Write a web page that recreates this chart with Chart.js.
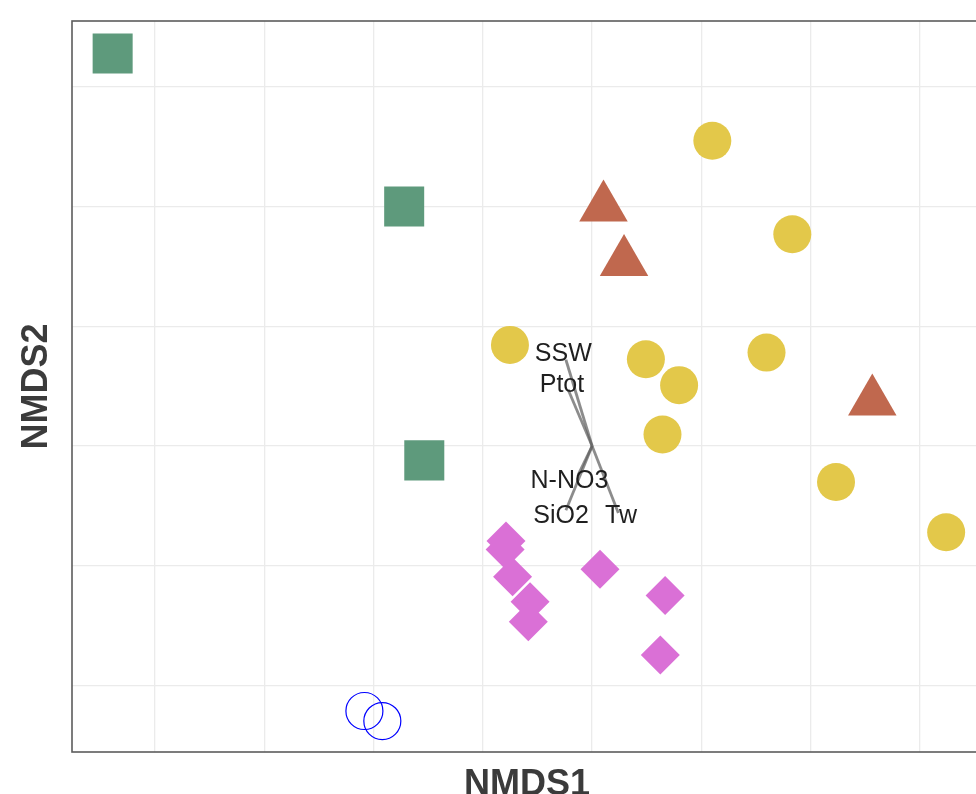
<!DOCTYPE html>
<html>
<head>
<meta charset="utf-8">
<title>NMDS ordination</title>
<script src="https://cdn.jsdelivr.net/npm/chart.js@4.4.1/dist/chart.umd.min.js"></script>
<style>
  html, body { margin: 0; padding: 0; background: #fff; }
  #wrap { width: 976px; height: 794px; overflow: hidden; position: relative; }
  #nmds { display: block; }
</style>
</head>
<body>
<div id="wrap">
  <canvas id="nmds" width="1000" height="820"></canvas>
</div>
<script>
// Grid positions on both axes (no tick labels are shown)
const xGrid = [-1, -0.75, -0.5, -0.25, 0, 0.25, 0.5, 0.75];
const yGrid = [-0.5, -0.25, 0, 0.25, 0.5, 0.75];

// Site scores by group
const squareX = [-1.097, -0.430, -0.384];
const squareY = [0.819, 0.500, -0.030];

const triangleX = [0.026, 0.073, 0.641];
const triangleY = [0.498, 0.384, 0.093];

const circleX = [-0.188, 0.123, 0.199, 0.161, 0.275, 0.458, 0.399, 0.558, 0.810];
const circleY = [0.211, 0.181, 0.127, 0.024, 0.637, 0.442, 0.195, -0.075, -0.180];

const diamondX = [-0.197, -0.199, -0.182, -0.142, -0.146, 0.018, 0.167, 0.156];
const diamondY = [-0.198, -0.216, -0.273, -0.325, -0.367, -0.257, -0.312, -0.436];

const openX = [-0.521, -0.480];
const openY = [-0.553, -0.574];

// Environmental fit vectors (arrow tips) and their label positions
const envNames = ["SSW", "Ptot", "N-NO3", "SiO2", "Tw"];
const envX = [-0.060, -0.055, -0.032, -0.060, 0.060];
const envY = [0.180, 0.118, -0.060, -0.134, -0.140];
const envLabelX = [-0.066, -0.069, -0.052, -0.071, 0.066];
const envLabelY = [0.192, 0.127, -0.073, -0.146, -0.146];

const toPoints = (xs, ys) => xs.map((x, i) => ({ x: x, y: ys[i] }));

const vectorSets = envNames.map((name, i) => ({
  label: name,
  data: [{ x: 0, y: 0 }, { x: envX[i], y: envY[i] }],
  showLine: true,
  borderColor: "rgba(95,95,95,0.72)",
  borderWidth: 2.8,
  pointRadius: 0,
  order: 5
}));

// Draws the env. variable names next to the vectors
const envLabels = {
  id: "envLabels",
  afterDatasetsDraw(chart) {
    const ctx = chart.ctx;
    const xs = chart.scales.x, ys = chart.scales.y;
    ctx.save();
    ctx.font = "25px 'Liberation Sans', Arial, sans-serif";
    ctx.fillStyle = "#1f1f1f";
    ctx.textAlign = "center";
    ctx.textBaseline = "middle";
    envNames.forEach((name, i) => {
      ctx.fillText(name, xs.getPixelForValue(envLabelX[i]), ys.getPixelForValue(envLabelY[i]));
    });
    ctx.restore();
  }
};

// Panel border on all four sides
const panelBorder = {
  id: "panelBorder",
  afterDraw(chart) {
    const a = chart.chartArea;
    const ctx = chart.ctx;
    ctx.save();
    ctx.strokeStyle = "#5c5c5c";
    ctx.lineWidth = 1.6;
    ctx.strokeRect(a.left, a.top, a.right - a.left, a.bottom - a.top);
    ctx.restore();
  }
};

const titleFont = { family: "'Liberation Sans', Arial, sans-serif", size: 36, weight: "bold" };

new Chart(document.getElementById("nmds"), {
  type: "scatter",
  data: {
    datasets: [
      {
        label: "A",
        data: toPoints(squareX, squareY),
        pointStyle: "rect",
        pointRadius: 28.3,
        backgroundColor: "#5e9a7c",
        borderWidth: 0,
        order: 1
      },
      {
        label: "B",
        data: toPoints(triangleX, triangleY),
        pointStyle: "triangle",
        pointRadius: 28,
        backgroundColor: "#c0684e",
        borderWidth: 0,
        order: 1
      },
      {
        label: "C",
        data: toPoints(circleX, circleY),
        pointStyle: "circle",
        pointRadius: 19,
        backgroundColor: "#e3c84a",
        borderWidth: 0,
        order: 1
      },
      {
        label: "D",
        data: toPoints(diamondX, diamondY),
        pointStyle: "rectRot",
        pointRadius: 19.5,
        backgroundColor: "#da70d6",
        borderWidth: 0,
        order: 1
      },
      {
        label: "E",
        data: toPoints(openX, openY),
        pointStyle: "circle",
        pointRadius: 18.5,
        backgroundColor: "rgba(0,0,0,0)",
        borderColor: "#0000ff",
        borderWidth: 1.2,
        order: 1
      },
      ...vectorSets
    ]
  },
  options: {
    responsive: false,
    animation: false,
    devicePixelRatio: 1,
    layout: { autoPadding: false, padding: { left: 0, top: 21, right: 18, bottom: 13.4 } },
    plugins: { legend: { display: false }, tooltip: { enabled: false } },
    scales: {
      x: {
        type: "linear",
        min: -1.19,
        max: 0.892,
        afterBuildTicks: (axis) => { axis.ticks = xGrid.map((v) => ({ value: v })); },
        ticks: { display: false },
        grid: { color: "#ebebeb", lineWidth: 1.3, drawTicks: false },
        border: { display: false },
        title: { display: true, text: "NMDS1", font: titleFont, color: "#3b3b3b", padding: { top: 11.4, bottom: 0 } }
      },
      y: {
        type: "linear",
        min: -0.6386,
        max: 0.887,
        afterBuildTicks: (axis) => { axis.ticks = yGrid.map((v) => ({ value: v })); },
        ticks: { display: false },
        grid: { color: "#ebebeb", lineWidth: 1.3, drawTicks: false },
        border: { display: false },
        title: { display: true, text: "NMDS2", font: titleFont, color: "#3b3b3b", padding: { top: 15.4, bottom: 13.4 } }
      }
    }
  },
  plugins: [envLabels, panelBorder]
});
</script>
</body>
</html>
